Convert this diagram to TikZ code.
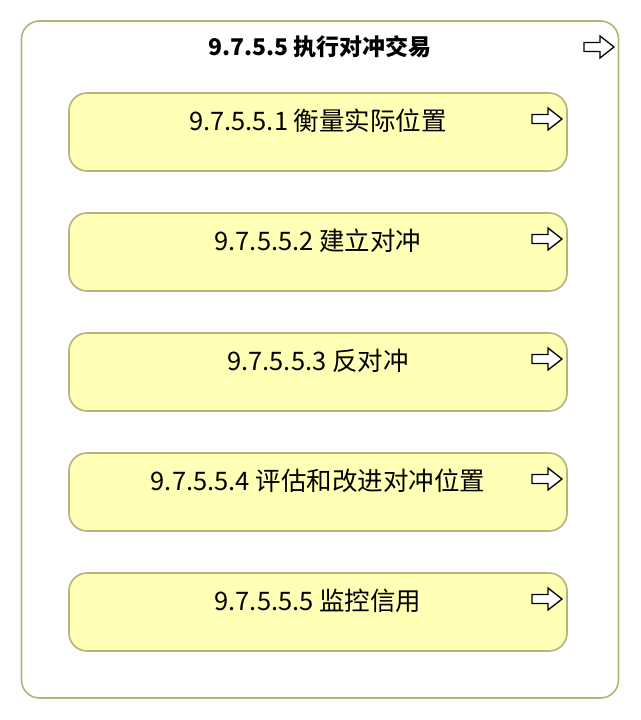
\documentclass[tikz,border=0pt]{standalone}
\usepackage{fontspec}
\setmainfont{Noto Sans CJK SC}
\usetikzlibrary{calc}
\definecolor{bord}{HTML}{B3B37A}
\definecolor{yfill}{HTML}{FFFFB5}
\tikzset{
  outerbox/.style={draw=bord, line width=1.6pt, rounded corners=18pt, fill=white},
  innerbox/.style={draw=bord, line width=1.6pt, rounded corners=18pt, fill=yfill},
  lbl/.style={font=\fontsize{25.5}{28}\selectfont, anchor=center, inner sep=0pt},
  ttl/.style={font=\bfseries\fontsize{23}{26}\selectfont, anchor=center, inner sep=0pt},
  arr/.style={draw=black, line width=1.3pt, fill=white, line join=miter}
}
\newcommand{\procarrow}[1]{%
  \draw[arr] ($(#1)+(-15,-4.5)$) -- ($(#1)+(1,-4.5)$) -- ($(#1)+(1,-11)$) -- ($(#1)+(15,0)$)
    -- ($(#1)+(1,11)$) -- ($(#1)+(1,4.5)$) -- ($(#1)+(-15,4.5)$) -- cycle;}
\begin{document}
\begin{tikzpicture}[x=1pt,y=-1pt]
\useasboundingbox (0,0) rectangle (640,720);
\fill[white] (0,0) rectangle (640,720);
\draw[outerbox] (21.5,21) rectangle (618.5,698);
\node[ttl] (title) at (320,47) {9.7.5.5 执行对冲交易};
\coordinate (oa) at (599,47);
\procarrow{oa}
\foreach \i/\t in {0/{9.7.5.5.1 衡量实际位置},1/{9.7.5.5.2 建立对冲},2/{9.7.5.5.3 反对冲},3/{9.7.5.5.4 评估和改进对冲位置},4/{9.7.5.5.5 监控信用}}{
  \pgfmathsetmacro{\yt}{93+120*\i}
  \pgfmathsetmacro{\yb}{171+120*\i}
  \pgfmathsetmacro{\yl}{121+120*\i}
  \pgfmathsetmacro{\ya}{119+120*\i}
  \draw[innerbox] (69,\yt) rectangle (567,\yb);
  \node[lbl] (b\i) at (318,\yl) {\t};
  \coordinate (a\i) at (547,\ya);
  \procarrow{a\i}
}
\end{tikzpicture}
\end{document}
